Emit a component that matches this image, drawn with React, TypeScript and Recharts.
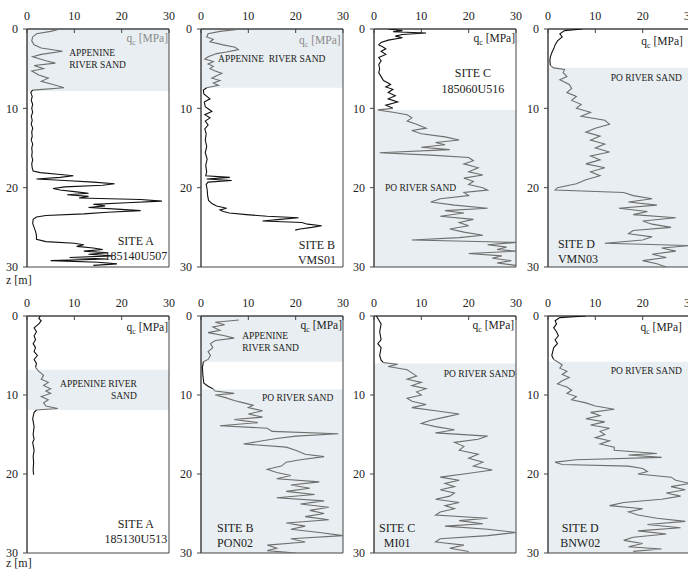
import React from "react";
import {
  ScatterChart,
  Scatter,
  XAxis,
  YAxis,
  ReferenceArea,
  ReferenceDot,
} from "recharts";

const SERIF = "Liberation Serif, Times New Roman, serif";
const SAND_FILL = "#e8eef1";

// cone resistance profiles, [depth z (m), qc (MPa)]
const siteA507: [number, number][] = [
  [0, 7], [0.3, 5], [0.6, 2], [1, 1.2], [1.5, 1], [2, 1.5], [2.4, 3], [2.8, 7.5], [3.2, 3], [3.5, 1.2],
  [4, 4], [4.3, 6], [4.6, 1.5], [5, 3.5], [5.3, 1], [5.8, 2.5], [6.2, 4.5], [6.6, 3], [7, 5.5], [7.4, 7.8],
  [7.7, 1.2], [8, 0.8], [8.5, 1.1], [9, 0.9], [9.5, 1.2], [10, 1], [10.5, 1.2], [11, 0.9], [11.5, 1.1],
  [12, 0.9], [12.5, 1.2], [13, 1], [13.5, 1.1], [14, 0.9], [14.5, 1.2], [15, 1], [15.5, 1.1], [16, 1],
  [16.5, 1.2], [17, 1], [17.5, 1.1], [17.9, 1.3], [18.1, 2.8], [18.3, 6.5], [18.5, 9.8], [18.7, 7],
  [18.9, 2], [19.1, 8], [19.3, 14], [19.5, 18.5], [19.7, 16], [19.9, 8], [20.1, 5.5], [20.3, 7],
  [20.5, 10], [20.7, 13], [20.9, 8.5], [21.1, 13], [21.3, 11], [21.5, 24], [21.7, 28.5], [21.9, 21],
  [22.1, 14], [22.3, 16.5], [22.5, 13], [22.7, 19], [22.9, 24], [23.1, 17], [23.3, 12], [23.5, 4],
  [23.7, 2], [24, 1.3], [24.5, 1.2], [25, 1.5], [25.5, 1.8], [26, 2], [26.5, 2], [26.8, 4], [27, 10],
  [27.2, 12], [27.4, 10.5], [27.6, 14], [27.8, 16], [28, 12], [28.2, 17], [28.4, 13], [28.6, 18],
  [28.8, 9], [29, 17], [29.2, 5], [29.4, 15], [29.6, 19], [29.8, 14],
];

const siteBVMS01: [number, number][] = [
  [0, 8.6], [0.3, 4], [0.6, 1.5], [1, 1.2], [1.3, 2.6], [1.6, 1.9], [2, 4.7], [2.3, 7.2], [2.6, 7.9],
  [2.9, 5.4], [3.1, 3.3], [3.5, 1.5], [3.8, 0.8], [4.1, 2.6], [4.4, 1.5], [4.7, 2.6], [5, 1.9], [5.3, 3],
  [5.6, 4.4], [5.9, 3.3], [6.2, 2.3], [6.5, 4], [6.8, 2.6], [7.1, 3.7], [7.4, 1.2], [7.7, 0.5],
  [8.2, 0.6], [8.8, 1.9], [9.2, 0.7], [9.8, 0.9], [10.4, 2.3], [10.8, 0.8], [11.2, 1.9], [11.6, 0.9],
  [12.1, 1.5], [12.6, 0.8], [13.2, 1.1], [14, 0.9], [14.8, 1.2], [15.6, 0.9], [16.4, 1.3], [17.2, 1],
  [18, 1.2], [18.5, 1], [18.7, 6.1], [18.9, 1.2], [19.1, 6.5], [19.3, 1.5], [19.6, 1.1], [20.2, 1.3],
  [21, 1.4], [21.6, 1.6], [22, 2.3], [22.3, 3.3], [22.6, 5.4], [22.8, 4], [23, 4.7], [23.2, 6],
  [23.4, 9.6], [23.6, 14], [23.8, 20.6], [24, 16.7], [24.2, 13], [24.4, 21.3], [24.6, 22.5],
  [24.8, 25.5], [25, 23.4], [25.2, 20.9], [25.35, 19.9],
];

const siteC516: [number, number][] = [
  [0, 3], [0.2, 6], [0.35, 4], [0.5, 11], [0.7, 6], [0.9, 4.5], [1.1, 6], [1.4, 3], [1.7, 1.5], [2, 1],
  [2.3, 2], [2.5, 2.5], [2.8, 1.5], [3.2, 2.5], [3.6, 1], [4, 1.5], [4.5, 1], [5, 1.2], [5.5, 1], [6, 1.5],
  [6.5, 2], [6.8, 3], [7, 3.5], [7.3, 2.5], [7.6, 4], [8, 3], [8.4, 4.5], [8.8, 3], [9.2, 5], [9.6, 2.5],
  [10, 4], [10.2, 0.8], [10.5, 4], [10.8, 7], [11.2, 8], [11.6, 7], [12, 9], [12.5, 11], [12.8, 8],
  [13.2, 10], [13.6, 15], [14, 18], [14.3, 13], [14.6, 15], [14.9, 10], [15.2, 16], [15.6, 1.2],
  [15.9, 12], [16.2, 20], [16.6, 21], [17, 19], [17.5, 22], [18, 20], [18.4, 23], [18.8, 19], [19.2, 21],
  [19.6, 20], [20, 23], [20.3, 24], [20.6, 19], [21, 20], [21.4, 14], [21.8, 12], [22.2, 17], [22.6, 24],
  [22.9, 15], [23.2, 19], [23.6, 14], [24, 21], [24.4, 18], [24.8, 20], [25.2, 16], [25.6, 19], [26, 23],
  [26.3, 18], [26.6, 8], [26.9, 30], [27.2, 24], [27.5, 28], [27.8, 26], [28, 30], [28.3, 20], [28.6, 27],
  [28.9, 25], [29.2, 29], [29.5, 26], [29.8, 30],
];

const siteDVMN03: [number, number][] = [
  [0, 7.3], [0.2, 3.5], [0.6, 2.5], [1, 3], [1.5, 2], [2, 1.5], [2.5, 1.2], [3, 0.8], [3.5, 0.5], [4, 0.4],
  [4.6, 0.5], [4.9, 1.2], [5.1, 3.5], [5.5, 3.2], [6, 4], [6.4, 2.5], [7, 4.5], [7.5, 5], [8, 4], [8.5, 6],
  [9, 5], [9.5, 7], [10, 6], [10.5, 9], [11, 7], [11.5, 12], [12, 13], [12.5, 10], [13, 8], [13.5, 11],
  [14, 9], [14.5, 12], [15, 10], [15.5, 13], [16, 9], [16.5, 11], [17, 8], [17.5, 12], [18, 9], [18.5, 11],
  [19, 8], [19.5, 6], [20, 2], [20.3, 1.5], [20.6, 16], [21, 18], [21.4, 22], [21.8, 17], [22.2, 23],
  [22.6, 15], [23, 21], [23.4, 18], [23.8, 27], [24.2, 20], [24.6, 22], [25, 26], [25.4, 18], [25.8, 17],
  [26.2, 22], [26.6, 20], [27, 12], [27.3, 30], [27.6, 24], [28, 27], [28.4, 22], [28.8, 25], [29.2, 20],
  [29.6, 23], [30, 25],
];

const siteA513: [number, number][] = [
  [0, 2.8], [0.3, 2.5], [0.6, 3], [1, 2.5], [1.5, 1.5], [2, 2], [2.5, 1.5], [3, 1.8], [3.5, 1.3], [4, 1.8],
  [4.5, 1.5], [5, 2.2], [5.5, 1.5], [6, 2], [6.5, 1.8], [7, 2.5], [7.5, 3.5], [8, 3], [8.4, 4.5], [8.8, 3.5],
  [9.2, 5], [9.5, 4], [9.8, 5], [10.2, 3], [10.6, 4.5], [11, 3.5], [11.4, 4], [11.7, 6.5], [11.9, 2],
  [12.2, 1.5], [13, 1.2], [14, 1.5], [15, 1.3], [15.6, 1.5], [16, 1.2], [17, 1.5], [17.8, 1.3], [18.5, 1.4],
  [19.5, 1.3], [20.1, 1.4],
];

const siteBPON02: [number, number][] = [
  [0.5, 8], [0.8, 3], [1.1, 5], [1.4, 2.5], [1.8, 4], [2.1, 1.5], [2.5, 5], [2.8, 7], [3.1, 3], [3.5, 2],
  [4, 2.5], [4.5, 1.5], [5, 2], [5.5, 1.5], [5.8, 0.5], [6.5, 0.3], [7.5, 0.4], [8.5, 0.6], [8.9, 1.5],
  [9.2, 2.5], [9.5, 3], [9.8, 7], [10, 3], [10.3, 5], [10.7, 7], [11, 9], [11.3, 11], [11.6, 10], [12, 13],
  [12.4, 10], [12.8, 13], [13.1, 7], [13.5, 12], [13.9, 4], [14.2, 14], [14.6, 15], [14.9, 29], [15.2, 20],
  [15.5, 16], [15.8, 13], [16.2, 9], [16.6, 18], [17, 20], [17.5, 22], [17.8, 26], [18.2, 21], [18.5, 18],
  [19, 17], [19.4, 14], [19.8, 16], [20.2, 19], [20.6, 16], [21, 25], [21.4, 19], [21.8, 23], [22.2, 18],
  [22.6, 24], [23, 16], [23.4, 26], [23.8, 21], [24.2, 27], [24.6, 23], [25, 26], [25.4, 22], [25.8, 27],
  [26.2, 18], [26.6, 22], [27, 19], [27.4, 25], [27.8, 30], [28.2, 19], [28.6, 22], [29, 14], [29.4, 16],
  [29.7, 14], [30, 20],
];

const siteCMI01: [number, number][] = [
  [0, 0.5], [0.5, 1], [1, 1.5], [2, 1.2], [3, 1.5], [3.5, 0.8], [4, 1.5], [5, 1.2], [5.6, 1.5], [5.9, 2],
  [6.1, 5], [6.4, 3], [6.8, 7], [7.2, 8], [7.6, 9], [8, 7], [8.4, 10], [8.8, 8], [9.2, 11], [9.6, 9],
  [10, 10], [10.4, 7], [10.8, 8], [11.2, 11], [11.6, 8], [12, 13], [12.4, 18], [12.8, 15], [13.2, 12],
  [13.6, 10], [14, 13], [14.4, 17], [14.8, 13], [15.2, 24], [15.6, 22], [16, 17], [16.5, 19], [17, 18],
  [17.5, 22], [18, 20], [18.5, 23], [19, 21], [19.5, 25], [20, 19], [20.4, 14], [20.8, 18], [21.2, 15],
  [21.6, 17], [22, 14], [22.4, 17], [22.8, 16], [23.2, 13], [23.6, 18], [24, 15], [24.4, 17], [24.8, 14],
  [25.2, 13], [25.6, 24], [25.9, 18], [26.3, 23], [26.6, 15], [27, 24], [27.4, 30], [27.8, 24], [28.2, 14],
  [28.6, 13], [29, 19], [29.4, 16], [29.8, 20],
];

const siteDBNW02: [number, number][] = [
  [0, 8], [0.2, 2.5], [0.6, 1.5], [1, 1.8], [1.5, 1.2], [2, 1.8], [2.5, 2.2], [3, 1.5], [3.5, 2], [4, 1.2],
  [4.5, 1], [5, 0.8], [5.5, 1.2], [5.8, 2], [6.2, 3], [6.6, 2.5], [7, 4], [7.4, 3], [7.8, 4.5], [8.2, 3],
  [8.6, 2], [9, 4], [9.4, 5], [9.8, 4], [10.2, 6], [10.6, 5], [11, 8], [11.4, 10], [11.8, 14], [12.2, 9],
  [12.6, 11], [13, 8], [13.4, 12], [13.8, 9], [14.2, 13], [14.6, 11], [15, 12], [15.4, 10], [15.8, 13],
  [16.2, 11], [16.6, 14], [17, 14], [17.4, 23], [17.6, 17], [17.9, 24], [18.2, 6], [18.5, 1.5], [18.8, 3],
  [19, 17], [19.3, 20], [19.7, 21], [20, 19], [20.4, 26], [20.8, 27], [21.2, 30], [21.6, 26], [22, 29],
  [22.4, 25], [22.8, 28], [23.2, 24], [23.6, 16], [24, 13], [24.4, 20], [24.8, 17], [25.2, 19], [25.6, 23],
  [26, 29], [26.4, 21], [26.8, 28], [27.2, 19], [27.6, 25], [28, 18], [28.4, 16], [28.8, 20], [29.2, 17],
  [29.5, 24], [29.8, 18],
];

// sand layers [top, bottom] in m
const sandA507 = [[0, 7.8]];
const sandBVMS01 = [[0, 7.4]];
const sandC516 = [[10.2, 30]];
const sandDVMN03 = [[4.9, 30]];
const sandA513 = [[6.8, 11.9]];
const sandBPON02 = [[0, 5.8], [9.3, 30]];
const sandCMI01 = [[6, 30]];
const sandDBNW02 = [[5.8, 30]];

const qTicks = [0, 10, 20, 30];
const zTicks = [0, 10, 20, 30];

type Note = {
  q: number;
  z: number;
  lines?: string[];
  anchor?: "start" | "middle" | "end";
  size?: number;
  gap?: number;
  qc?: boolean;
  color?: string;
};

const panels = [
  {
    left: 27, top: 29, h: 238, data: siteA507, sand: sandA507,
    notes: [
      { q: 29.8, z: 1.64, qc: true, color: "#8a8a8a" },
      { q: 8.9, z: 3.37, lines: ["APPENINE", "RIVER SAND"], size: 9.5, gap: 12.6 },
      { q: 23, z: 27.2, lines: ["SITE A", "185140U507"], anchor: "middle", size: 12, gap: 15 },
    ],
  },
  {
    left: 201, top: 29, h: 238, data: siteBVMS01, sand: sandBVMS01,
    notes: [
      { q: 29.5, z: 1.9, qc: true, color: "#8a8a8a" },
      { q: 3.6, z: 4.2, lines: ["APPENINE  RIVER SAND"], size: 9.5 },
      { q: 24.5, z: 27.7, lines: ["SITE B", "VMS01"], anchor: "middle", size: 12, gap: 15 },
    ],
  },
  {
    left: 374, top: 29, h: 238, data: siteC516, sand: sandC516,
    notes: [
      { q: 29.8, z: 1.64, qc: true },
      { q: 20.9, z: 6.05, lines: ["SITE C", "185060U516"], anchor: "middle", size: 12, gap: 16 },
      { q: 2.3, z: 20.4, lines: ["PO RIVER SAND"], size: 9.5 },
    ],
  },
  {
    left: 548, top: 29, h: 238, data: siteDVMN03, sand: sandDVMN03,
    notes: [
      { q: 28.5, z: 2, qc: true },
      { q: 28.3, z: 6.55, lines: ["PO RIVER SAND"], anchor: "end", size: 9.5 },
      { q: 2.1, z: 27.6, lines: ["SITE D", "VMN03"], size: 12, gap: 15 },
    ],
  },
  {
    left: 27, top: 316, h: 237, data: siteA513, sand: sandA513,
    notes: [
      { q: 29.8, z: 1.9, qc: true },
      { q: 23.2, z: 9, lines: ["APPENINE RIVER", "SAND"], anchor: "end", size: 9.5, gap: 12 },
      { q: 23, z: 26.8, lines: ["SITE A", "185130U513"], anchor: "middle", size: 12, gap: 15 },
    ],
  },
  {
    left: 201, top: 316, h: 237, data: siteBPON02, sand: sandBPON02,
    notes: [
      { q: 29.8, z: 1.65, qc: true },
      { q: 8.7, z: 2.9, lines: ["APPENINE", "RIVER SAND"], size: 9.5, gap: 12 },
      { q: 12.9, z: 10.8, lines: ["PO RIVER SAND"], size: 9.5 },
      { q: 3.4, z: 27.3, lines: ["SITE B", "PON02"], size: 12, gap: 15 },
    ],
  },
  {
    left: 374, top: 316, h: 237, data: siteCMI01, sand: sandCMI01,
    notes: [
      { q: 29.6, z: 1.65, qc: true },
      { q: 29.8, z: 7.7, lines: ["PO RIVER SAND"], anchor: "end", size: 9.5 },
      { q: 4.9, z: 27.3, lines: ["SITE C", "MI01"], anchor: "middle", size: 12, gap: 15 },
    ],
  },
  {
    left: 548, top: 316, h: 237, data: siteDBNW02, sand: sandDBNW02,
    notes: [
      { q: 28.3, z: 1.9, qc: true },
      { q: 28.3, z: 7.3, lines: ["PO RIVER SAND"], anchor: "end", size: 9.5 },
      { q: 6.8, z: 27.3, lines: ["SITE D", "BNW02"], anchor: "middle", size: 12, gap: 15 },
    ],
  },
];

const PLOT_W = 142;

// split a profile into runs so sand stretches are drawn grey, the rest black
function splitRuns(pts: [number, number][], sand: number[][]) {
  const inSand = (z: number) => sand.some(([a, b]) => z >= a && z <= b);
  const runs: { sand: boolean; data: { z: number; q: number }[] }[] = [];
  let cur: any = null;
  pts.forEach(([z, q]) => {
    const s = inSand(z);
    if (!cur || cur.sand !== s) {
      const prev = cur ? cur.data[cur.data.length - 1] : null;
      cur = { sand: s, data: prev ? [prev] : [] };
      runs.push(cur);
    }
    cur.data.push({ z, q });
  });
  return runs;
}

const noDot = () => <g />;

const noteShape = (n: Note) => (props: any) => {
  const { cx, cy } = props;
  if (n.qc) {
    return (
      <text x={cx} y={cy} textAnchor="end" fontSize={11.5} fill={n.color || "#222"} fontFamily={SERIF}>
        <tspan>q</tspan>
        <tspan dy={3} fontSize={8}>c</tspan>
        <tspan dy={-3}> [MPa]</tspan>
      </text>
    );
  }
  return (
    <text x={cx} y={cy} textAnchor={n.anchor || "start"} fontSize={n.size} fill="#222" fontFamily={SERIF}>
      {(n.lines || []).map((l, i) => (
        <tspan key={i} x={cx} dy={i === 0 ? 0 : n.gap} style={{ whiteSpace: "pre" }}>
          {l}
        </tspan>
      ))}
    </text>
  );
};

function Panel({ p }: { p: (typeof panels)[number] }) {
  const runs = splitRuns(p.data, p.sand);
  const tick = { fontSize: 12, fill: "#222", fontFamily: SERIF };
  return (
    <div style={{ position: "absolute", left: p.left - 27, top: p.top - 29 }}>
      <ScatterChart
        width={27 + PLOT_W + 6}
        height={29 + p.h + 10}
        margin={{ top: 9, right: 6, bottom: 10, left: 2 }}
        style={{ fontFamily: SERIF }}
      >
        <XAxis
          type="number"
          dataKey="q"
          orientation="top"
          domain={[0, 30]}
          ticks={qTicks}
          allowDataOverflow
          height={20}
          tickSize={-4}
          tickMargin={13}
          axisLine={{ stroke: "#444" }}
          tickLine={{ stroke: "#444" }}
          tick={tick}
        />
        <YAxis
          type="number"
          dataKey="z"
          reversed
          domain={[0, 30]}
          ticks={zTicks}
          allowDataOverflow
          width={25}
          tickSize={4}
          tickMargin={5}
          axisLine={{ stroke: "#444" }}
          tickLine={{ stroke: "#444" }}
          tick={tick}
        />
        {p.sand.map(([a, b], i) => (
          <ReferenceArea
            key={"s" + i}
            x1={0}
            x2={30}
            y1={a}
            y2={b}
            fill={SAND_FILL}
            fillOpacity={1}
            stroke="none"
          />
        ))}
        <ReferenceArea x1={0} x2={30} y1={0} y2={30} fill="none" fillOpacity={0} stroke="#444" strokeWidth={1} />
        {runs.map((r, i) => (
          <Scatter
            key={i}
            data={r.data}
            line={{ stroke: r.sand ? "#6e6e6e" : "#111", strokeWidth: 1.1 }}
            shape={noDot}
            isAnimationActive={false}
          />
        ))}
        {(p.notes as Note[]).map((n, i) => (
          <ReferenceDot key={"n" + i} x={n.q} y={n.z} r={0} ifOverflow="visible" shape={noteShape(n)} />
        ))}
      </ScatterChart>
    </div>
  );
}

export default function App() {
  return (
    <div
      style={{
        position: "absolute",
        left: 0,
        top: 0,
        width: 688,
        height: 569,
        overflow: "hidden",
        background: "#fff",
        fontFamily: SERIF,
      }}
    >
      {panels.map((p, i) => (
        <Panel key={i} p={p} />
      ))}
      {[275, 558].map((t) => (
        <div
          key={t}
          style={{ position: "absolute", left: 6, top: t, fontSize: 12, lineHeight: "11px", color: "#222" }}
        >
          z [m]
        </div>
      ))}
    </div>
  );
}
